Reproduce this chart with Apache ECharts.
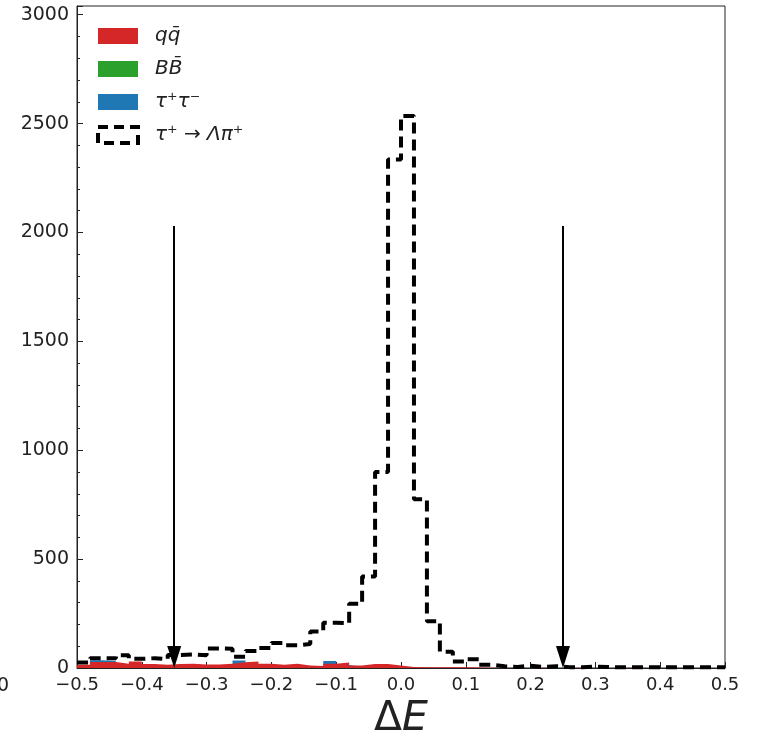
<!DOCTYPE html>
<html>
<head>
<meta charset="utf-8">
<script src="https://cdn.jsdelivr.net/npm/echarts@6/dist/echarts.min.js"></script>
<style>
  html, body { margin: 0; padding: 0; background: #fff; }
  #chart { width: 767px; height: 745px; }
</style>
</head>
<body>
<div id="chart"></div>
<script>
// histogram binning of Delta E
const binStart = -0.5;
const binWidth = 0.02;

// tau+ -> Lambda pi+ (dashed outline)
const signal = [
  25, 45, 45, 58, 42, 45, 40, 60, 62, 58,
  90, 88, 52, 78, 92, 115, 105, 110, 168, 208,
  205, 295, 420, 900, 2335, 2535, 775, 215, 75, 30,
  40, 15, 8, 5, 10, 5, 8, 4, 3, 6,
  5, 3, 4, 3, 4, 3, 4, 3, 3, 3
];
// q qbar background
const qqbar = [
  15, 28, 28, 20, 30, 18, 15, 18, 20, 16,
  16, 20, 26, 30, 20, 15, 20, 12, 9, 20,
  25, 12, 18, 18, 12, 5, 3, 4, 3, 4,
  2, 1, 0, 1, 0, 1, 0, 0, 1, 0,
  0, 0, 1, 0, 0, 0, 0, 0, 0, 0
];
// B Bbar background
const bbbar = [
  0, 0, 0, 0, 0, 0, 0, 0, 0, 0,
  0, 0, 0, 0, 0, 0, 0, 0, 0, 0,
  0, 0, 0, 0, 0, 0, 0, 0, 0, 0,
  0, 0, 0, 0, 0, 0, 0, 0, 0, 0,
  0, 0, 0, 0, 0, 0, 0, 0, 0, 0
];
// tau+ tau- background
const tautau = [
  8, 36, 32, 10, 8, 10, 12, 16, 10, 8,
  8, 10, 34, 12, 8, 6, 8, 5, 6, 32,
  14, 6, 5, 6, 4, 3, 1, 1, 1, 0,
  0, 0, 0, 0, 0, 0, 0, 0, 0, 0,
  0, 0, 0, 0, 0, 0, 0, 0, 0, 0
];
// signal window cut positions (arrows)
const cutLow = -0.35;
const cutHigh = 0.25;
const arrowTop = 2030;

const labels = ["qq\u0304", "BB\u0304", "τ⁺τ⁻", "τ⁺ → Λπ⁺"];

const stepData = vals => {
  const d = vals.map((v, i) => [+(binStart + i * binWidth).toFixed(2), v]);
  d.push([+(binStart + vals.length * binWidth).toFixed(2), vals[vals.length - 1]]);
  return d;
};

const filled = (name, vals, color) => ({
  name: name,
  type: "line",
  step: "end",
  showSymbol: false,
  symbol: "none",
  data: stepData(vals),
  color: color,
  lineStyle: { width: 0 },
  areaStyle: { color: color, opacity: 1 }
});

const fmtX = v => {
  if (Math.abs(v) < 1e-9) return "0.0";
  return v.toFixed(1).replace("-", "\u2212");
};

const myChart = echarts.init(document.getElementById("chart"));
const option = {
  backgroundColor: "#fff",
  animation: false,
  textStyle: { fontFamily: "DejaVu Sans" },
  grid: { left: 77, right: 42, top: 6, bottom: 73, show: true, borderColor: "#222", borderWidth: 1 },
  legend: {
    left: 96,
    top: 26,
    padding: 0,
    orient: "vertical",
    itemWidth: 40,
    itemHeight: 16,
    itemGap: 13,
    textStyle: { fontSize: 20, fontStyle: "italic", color: "#222", padding: [0, 0, 0, 12] },
    data: [
      { name: labels[0], icon: "rect" },
      { name: labels[1], icon: "rect" },
      { name: labels[2], icon: "rect" },
      {
        name: labels[3],
        icon: "rect",
        itemStyle: { color: "rgba(0,0,0,0)", borderColor: "#000", borderWidth: 4, borderType: [10, 6] }
      }
    ]
  },
  xAxis: {
    type: "value",
    min: -0.5,
    max: 0.5,
    interval: 0.1,
    name: "{d|Δ}{e|E}",
    nameLocation: "middle",
    nameGap: 31,
    nameTextStyle: {
      rich: {
        d: { fontSize: 41, color: "#222", fontFamily: "DejaVu Sans" },
        e: { fontSize: 41, color: "#222", fontStyle: "italic", fontFamily: "DejaVu Sans" }
      }
    },
    axisLine: { show: true, onZero: false, lineStyle: { color: "#222", width: 1 } },
    axisTick: { show: true, inside: true, length: 6, lineStyle: { color: "#222" } },
    axisLabel: { fontSize: 18, color: "#222", margin: 8, formatter: fmtX },
    splitLine: { show: false }
  },
  yAxis: {
    type: "value",
    min: 0,
    max: 3040,
    interval: 500,
    axisLine: { show: true, onZero: false, lineStyle: { color: "#222", width: 1 } },
    axisTick: { show: true, inside: true, length: 6, lineStyle: { color: "#222" } },
    minorTick: { show: true, splitNumber: 5, length: 3, lineStyle: { color: "#222" } },
    axisLabel: { fontSize: 19, color: "#222", margin: 8, showMaxLabel: false, formatter: v => String(v) },
    splitLine: { show: false }
  },
  series: [
    filled(labels[2], tautau, "#1f77b4"),
    filled(labels[1], bbbar, "#2ca02c"),
    filled(labels[0], qqbar, "#d62728"),
    {
      name: labels[3],
      type: "line",
      step: "end",
      showSymbol: false,
      symbol: "none",
      data: stepData(signal),
      color: "#000",
      lineStyle: { color: "#000", width: 4, type: [11, 6] },
      markLine: {
        silent: true,
        symbol: ["none", "triangle"],
        symbolSize: [14, 22],
        label: { show: false },
        lineStyle: { color: "#000", width: 2, type: "solid" },
        data: [
          [{ coord: [cutLow, arrowTop] }, { coord: [cutLow, 50] }],
          [{ coord: [cutHigh, arrowTop] }, { coord: [cutHigh, 50] }]
        ]
      }
    }
  ],
  graphic: [
    { type: "text", left: -3, top: 677, style: { text: "0", fontSize: 19, fill: "#222", fontFamily: "DejaVu Sans" } }
  ]
};
myChart.setOption(option);
</script>
</body>
</html>
